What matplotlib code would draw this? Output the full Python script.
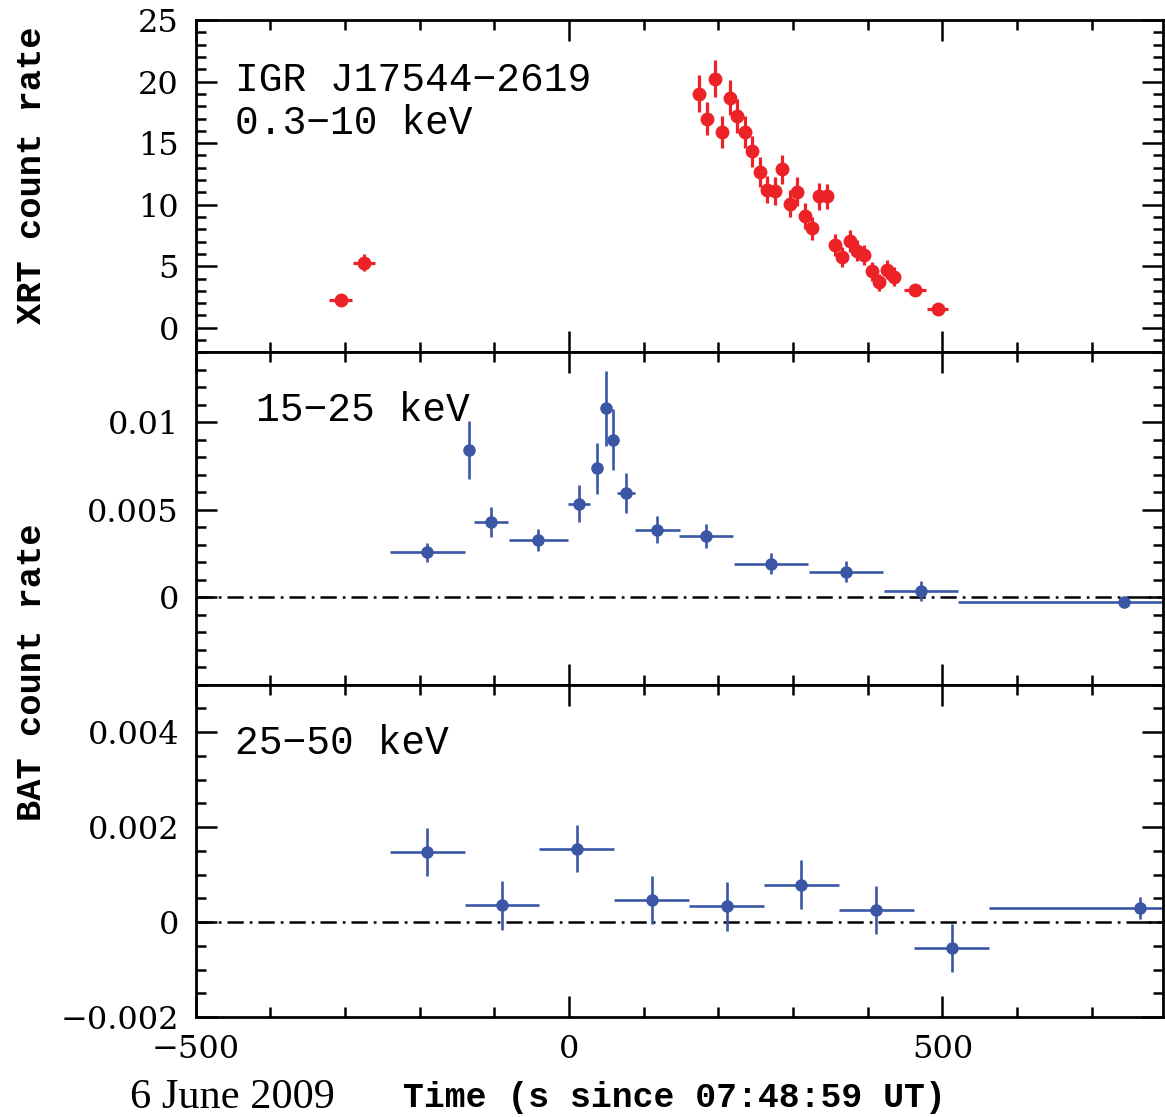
import matplotlib
matplotlib.use('Agg')
import matplotlib.pyplot as plt
from matplotlib.ticker import MultipleLocator

# XRT 0.3-10 keV light curve
xrt_t = [-306, -275, 174.5, 184.7, 195, 205.2, 215.4, 225.2, 235.4, 245.2, 255.4,
         265.2, 275.4, 285.3, 295.5, 305.7, 315.5, 325.3, 335.1, 345.8, 355.6,
         365.4, 375.6, 385.8, 395.6, 405.4, 415.6, 425.5, 435.7, 463.3, 494]
xrt_terr = [15, 14.5, 5, 5, 5, 5, 5, 5, 5, 5, 5, 5, 5, 5, 5, 5, 5, 5, 5, 5, 5,
            5, 5, 5, 5, 5, 5, 5, 5, 15, 14]
xrt_rate = [2.25, 5.29, 19.03, 17.0, 20.25, 15.9, 18.7, 17.2, 15.9, 14.33, 12.65,
            11.2, 11.1, 12.87, 10.07, 11.07, 9.07, 8.09, 10.7, 10.67, 6.73,
            5.78, 7.03, 6.27, 5.94, 4.59, 3.69, 4.72, 4.15, 3.07, 1.49]
xrt_err = [0.25, 0.7, 1.5, 1.36, 1.5, 1.3, 1.45, 1.38, 1.3, 1.25, 1.2,
           1.1, 1.15, 1.2, 1.1, 1.15, 1.05, 0.95, 1.1, 1.05, 0.88,
           0.8, 0.9, 0.85, 0.8, 0.75, 0.68, 0.75, 0.75, 0.3, 0.25]

# BAT 15-25 keV
bat1_t = [-190, -134.4, -104.5, -41, 13.4, 37, 49, 58.7, 75.7, 118, 183.8,
          270.6, 371, 471.3, 743]
bat1_terr = [50, 5, 23, 40, 15, 5, 5, 5, 12, 30, 36, 50, 50, 50, 222]
bat1_rate = [2.57e-3, 8.41e-3, 4.30e-3, 3.28e-3, 5.36e-3, 7.37e-3, 10.81e-3,
             9.02e-3, 5.95e-3, 3.86e-3, 3.52e-3, 1.91e-3, 1.46e-3, 0.36e-3,
             -0.28e-3]
bat1_err = [0.54e-3, 1.65e-3, 0.86e-3, 0.63e-3, 1.05e-3, 1.45e-3, 2.15e-3,
            1.77e-3, 1.16e-3, 0.76e-3, 0.69e-3, 0.6e-3, 0.59e-3, 0.57e-3,
            0.15e-3]

# BAT 25-50 keV
bat2_t = [-190, -90, 10.3, 110.8, 211, 311, 411.7, 512.3, 764]
bat2_terr = [50, 50, 50, 50, 50, 50, 50, 50, 201]
bat2_rate = [1.48e-3, 0.35e-3, 1.55e-3, 0.47e-3, 0.33e-3, 0.79e-3, 0.26e-3,
             -0.54e-3, 0.30e-3]
bat2_err = [0.51e-3, 0.51e-3, 0.5e-3, 0.51e-3, 0.51e-3, 0.51e-3, 0.51e-3,
            0.51e-3, 0.23e-3]

red = '#ec2227'
blue = '#3a56a5'
tickfont = 'DejaVu Serif'
labfont = 'Liberation Mono'

fig, axes = plt.subplots(3, 1, figsize=(11.65, 11.17), dpi=100, sharex=True)
plt.subplots_adjust(left=0.168, right=0.998, top=0.982, bottom=0.0895, hspace=0)
ax1, ax2, ax3 = axes

ax1.errorbar(xrt_t, xrt_rate, xerr=xrt_terr, yerr=xrt_err, fmt='o', color=red,
             ms=9, elinewidth=2.3, capsize=0)
ax2.errorbar(bat1_t, bat1_rate, xerr=bat1_terr, yerr=bat1_err, fmt='o', color=blue,
             ms=8, elinewidth=1.9, capsize=0)
ax3.errorbar(bat2_t, bat2_rate, xerr=bat2_terr, yerr=bat2_err, fmt='o', color=blue,
             ms=8, elinewidth=1.9, capsize=0)

# zero level, dash-dot
for ax in (ax2, ax3):
    ax.axhline(0, color='black', lw=1.8, ls=(0, (6.5, 2.4, 1.1, 2.4)), zorder=0)

ax1.set_ylim(-2, 25)
ax1.set_yticks([0, 5, 10, 15, 20, 25])
ax1.yaxis.set_minor_locator(MultipleLocator(1))
ax2.set_ylim(-0.005, 0.014)
ax2.set_yticks([0, 0.005, 0.01])
ax2.set_yticklabels(['0', '0.005', '0.01'])
ax2.yaxis.set_minor_locator(MultipleLocator(0.001))
ax3.set_ylim(-0.002, 0.005)
ax3.set_yticks([-0.002, 0, 0.002, 0.004])
ax3.set_yticklabels(['\u22120.002', '0', '0.002', '0.004'])
ax3.yaxis.set_minor_locator(MultipleLocator(0.0005))

ax3.set_xlim(-500, 795)
ax3.set_xticks([-500, 0, 500])
ax3.xaxis.set_minor_locator(MultipleLocator(100))

for ax in axes:
    ax.tick_params(which='both', direction='in', top=True, right=True, width=1.8)
    ax.tick_params(which='major', length=15, pad=12)
    ax.tick_params(which='minor', length=7)
    for s in ax.spines.values():
        s.set_linewidth(2)
    for lab in ax.get_yticklabels() + ax.get_xticklabels():
        lab.set_fontfamily(tickfont)
        lab.set_fontsize(23)

ax1.text(-448, 20.1, 'IGR J17544\u22122619', fontsize=28.5, family=labfont, va='center')
ax1.text(-448, 16.6, '0.3\u221210 keV', fontsize=28.5, family=labfont, va='center')
ax2.text(-419, 10.7e-3, '15\u221225 keV', fontsize=28.5, family=labfont, va='center')
ax3.text(-448, 3.77e-3, '25\u221250 keV', fontsize=28.5, family=labfont, va='center')

fig.text(0.027, 1 - 175 / 1117, 'XRT count rate', rotation=90, fontsize=25.5,
         family=labfont, weight='bold', ha='center', va='center')
fig.text(0.027, 1 - 672 / 1117, 'BAT count rate', rotation=90, fontsize=25.5,
         family=labfont, weight='bold', ha='center', va='center')
fig.text(674 / 1165, 1 - 1098 / 1117, 'Time (s since 07:48:59 UT)', fontsize=25,
         family=labfont, weight='bold', ha='center', va='center')
fig.text(130 / 1165, 1 - 1098 / 1117, '6 June 2009', fontsize=30.5,
         family='Liberation Serif', ha='left', va='center')

fig.savefig('out.png', dpi=100)
